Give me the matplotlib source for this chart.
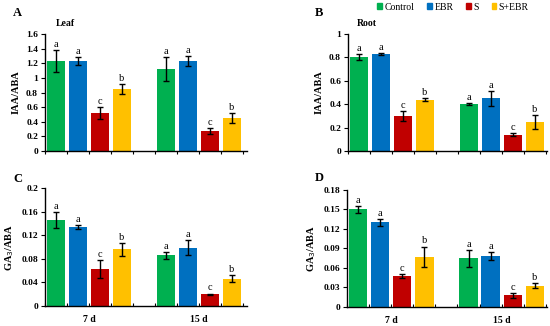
import numpy as np
import matplotlib.pyplot as plt

plt.rcParams['font.family'] = ['Liberation Serif', 'DejaVu Serif']

treatments = ['Control', 'EBR', 'S', 'S+EBR']
colors = ['#00B050', '#0070C0', '#C00000', '#FFC000']
days = ['7 d', '15 d']

# values per day group: [Control, EBR, S, S+EBR]
leaf_iaa = [[1.23, 1.23, 0.52, 0.85], [1.12, 1.23, 0.27, 0.45]]
leaf_iaa_err = [[0.15, 0.05, 0.08, 0.07], [0.16, 0.07, 0.04, 0.07]]
leaf_iaa_sig = [['a', 'a', 'c', 'b'], ['a', 'a', 'c', 'b']]

root_iaa = [[0.80, 0.83, 0.30, 0.44], [0.40, 0.45, 0.14, 0.25]]
root_iaa_err = [[0.025, 0.008, 0.04, 0.015], [0.01, 0.065, 0.015, 0.06]]
root_iaa_sig = [['a', 'a', 'c', 'b'], ['a', 'a', 'c', 'b']]

leaf_ga = [[0.146, 0.134, 0.063, 0.096], [0.086, 0.099, 0.020, 0.046]]
leaf_ga_err = [[0.013, 0.003, 0.015, 0.011], [0.006, 0.013, 0.001, 0.006]]
leaf_ga_sig = [['a', 'a', 'c', 'b'], ['a', 'a', 'c', 'b']]

root_ga = [[0.150, 0.130, 0.048, 0.077], [0.075, 0.079, 0.018, 0.033]]
root_ga_err = [[0.005, 0.005, 0.003, 0.016], [0.013, 0.006, 0.004, 0.004]]
root_ga_sig = [['a', 'a', 'c', 'b'], ['a', 'a', 'c', 'b']]


def panel(ax, vals, errs, sigs, ymax, ystep, ylabel, fmt, xlim, show_days):
    for g in range(2):
        for i in range(4):
            x = g * 5 + i
            ax.bar(x, vals[g][i], width=0.83, color=colors[i], zorder=2)
            ax.errorbar(x, vals[g][i], yerr=errs[g][i], color='black',
                        capsize=2.5, elinewidth=1, capthick=1, zorder=3)
            ax.text(x, vals[g][i] + errs[g][i] + ymax * 0.01, sigs[g][i],
                    ha='center', va='bottom', fontsize=7.5)
    ax.set_xlim(xlim)
    ax.set_ylim(0, ymax)
    ticks = np.arange(0, ymax + ystep / 2, ystep)
    ax.set_yticks(ticks)
    ax.set_yticklabels([fmt(t) for t in ticks], fontsize=6.8, fontweight='bold')
    edges = [x - 0.5 for x in range(10)]
    ax.set_xticks(edges)
    ax.set_xticklabels([])
    ax.tick_params(axis='x', length=2, direction='in' if show_days else 'out')
    ax.tick_params(axis='y', length=3, width=0.8, pad=2)
    ax.spines['top'].set_visible(False)
    ax.spines['right'].set_visible(False)
    ax.spines['left'].set_linewidth(1)
    ax.spines['bottom'].set_linewidth(1)
    ax.set_ylabel(ylabel, fontsize=7.5, fontweight='bold', labelpad=4)
    if show_days:
        for g in range(2):
            ax.text(g * 5 + 1.5, -ymax * 0.075, days[g], ha='center', va='top',
                    fontsize=7, fontweight='bold')


def f1(t):
    s = ('%.1f' % t).rstrip('0').rstrip('.')
    return s


def f2(t):
    return ('%.2f' % t).rstrip('0').rstrip('.') if t > 0 else '0'


fig = plt.figure(figsize=(5.5, 3.26), dpi=100)
axA = fig.add_axes([0.0818, 0.5368, 0.3673, 0.3589])
axB = fig.add_axes([0.6327, 0.5368, 0.3618, 0.3589])
axC = fig.add_axes([0.0818, 0.0613, 0.3673, 0.362])
axD = fig.add_axes([0.6309, 0.0583, 0.3636, 0.3589])

panel(axA, leaf_iaa, leaf_iaa_err, leaf_iaa_sig, 1.6, 0.2, 'IAA/ABA', f1, (-0.47, 8.7), False)
panel(axB, root_iaa, root_iaa_err, root_iaa_sig, 1.0, 0.2, 'IAA/ABA', f1, (-0.5, 8.55), False)
panel(axC, leaf_ga, leaf_ga_err, leaf_ga_sig, 0.2, 0.04, 'GA$_3$/ABA', f2, (-0.47, 8.7), True)
panel(axD, root_ga, root_ga_err, root_ga_sig, 0.18, 0.03, 'GA$_3$/ABA', f2, (-0.5, 8.55), True)

fig.text(13 / 550, 1 - 13 / 326, 'A', fontsize=9, fontweight='bold', va='center')
fig.text(315 / 550, 1 - 13 / 326, 'B', fontsize=9, fontweight='bold', va='center')
fig.text(13 / 550, 1 - 179 / 326, 'C', fontsize=9, fontweight='bold', va='center')
fig.text(315 / 550, 1 - 178 / 326, 'D', fontsize=9, fontweight='bold', va='center')
fig.text(56 / 550, 1 - 24 / 326, 'Leaf', fontsize=7, fontweight='bold', va='center')
fig.text(357 / 550, 1 - 23 / 326, 'Root', fontsize=7, fontweight='bold', va='center')

handles = [plt.Rectangle((0, 0), 1, 1, color=c) for c in colors]
fig.legend(handles, treatments, loc='center', bbox_to_anchor=(453 / 550, 1 - 7 / 326),
           ncol=4, frameon=False, fontsize=7, handlelength=0.5, handleheight=0.5,
           handletextpad=0.25, columnspacing=1.3, borderpad=0)

fig.savefig('out.png', dpi=100)
